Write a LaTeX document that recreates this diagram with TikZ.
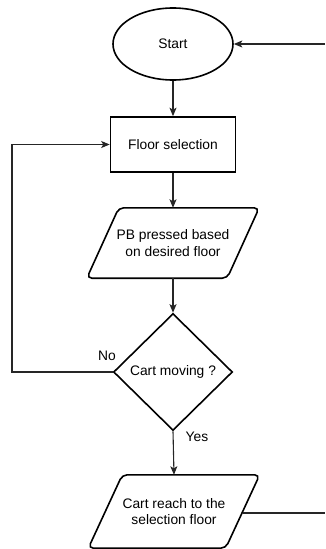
\documentclass[tikz,border=0pt]{standalone}
\usepackage{fontspec}
\setmainfont{Liberation Sans}
\usetikzlibrary{shapes.geometric,arrows.meta,calc}
\begin{document}
\begin{tikzpicture}[x=1pt,y=-1pt,
  shapeline/.style={draw=black,line width=1.6pt},
  txt/.style={font=\fontsize{13.8}{16.5}\selectfont,align=center,inner sep=0pt},
  conn/.style={draw=black!85,line width=1.1pt,-{Stealth[length=8.5pt,width=7pt,inset=2pt]}},
  plain/.style={draw=black!85,line width=1.1pt},
  lbl/.style={font=\fontsize{13.8}{16.5}\selectfont,inner sep=0pt}]
\useasboundingbox (0,0) rectangle (325,549);
% nodes
\node[ellipse,shapeline,txt,minimum width=120pt,minimum height=72pt] (start) at (173,44) {Start};
\node[rectangle,shapeline,txt,minimum width=125pt,minimum height=55pt] (floor) at (173,144.5) {Floor selection};
\node[rectangle,txt,minimum width=140pt,minimum height=70pt] (pb) at (173,243) {PB pressed based\\ on desired floor};
\draw[shapeline,rounded corners=5pt] ($(pb.north west)+(16,0)$) -- ($(pb.north east)+(16,0)$) -- ($(pb.south east)+(-16,0)$) -- ($(pb.south west)+(-16,0)$) -- cycle;
\node[diamond,shapeline,txt,minimum width=119pt,minimum height=117pt] (cart) at (173,372) {Cart moving ?};
\node[rectangle,txt,minimum width=137pt,minimum height=73pt] (reach) at (174,511.5) {Cart reach to the\\ selection floor};
\draw[shapeline,rounded corners=5pt] ($(reach.north west)+(17,0)$) -- ($(reach.north east)+(17,0)$) -- ($(reach.south east)+(-17,0)$) -- ($(reach.south west)+(-17,0)$) -- cycle;
% free ends
\coordinate (rtop) at (325,44);
\coordinate (rbot) at (325,513);
\coordinate (loopA) at (12,372);
\coordinate (loopB) at (12,144.5);
% connectors
\draw[conn] (rtop) -- (start.east);
\draw[conn] (start.south) -- (floor.north);
\draw[conn] (floor.south) -- (pb.north);
\draw[conn] (pb.south) -- (cart.north);
\draw[conn] (cart.west) -- (loopA) -- (loopB) -- (floor.west);
\draw[conn] (cart.south) -- (reach.north);
\draw[plain] ($(reach.east)+(0,1.5)$) -- (rbot);
% labels
\node[lbl] (no) at (107,356) {No};
\node[lbl] (yes) at (197,437) {Yes};
\end{tikzpicture}
\end{document}
